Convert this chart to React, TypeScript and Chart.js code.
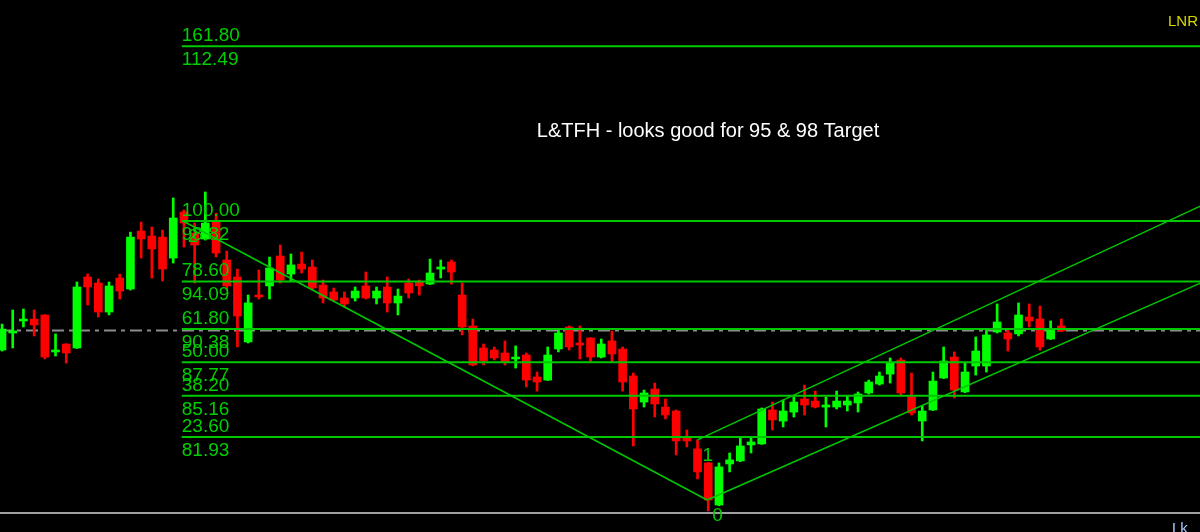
import React, { useEffect, useRef } from 'react';
import { Chart, registerables } from 'chart.js';

Chart.register(...registerables);

// ---- Candle data (price) ----
const OPEN = [
  88.73, 90.06, 91.00, 91.15, 91.47, 88.58, 89.20, 88.89, 94.44, 93.97,
  91.70, 94.36, 93.50, 98.03, 97.64, 97.56, 95.92, 99.52, 97.87, 97.41,
  98.74, 95.77, 94.44, 89.36, 93.03, 93.74, 96.08, 94.67, 95.45, 95.22,
  93.81, 93.27, 92.80, 92.80, 93.74, 92.80, 93.66, 92.41, 93.97, 94.05,
  93.89, 95.06, 95.61, 93.03, 90.61, 88.89, 88.73, 88.50, 88.03, 88.34,
  86.62, 86.38, 88.81, 90.53, 89.28, 89.67, 88.18, 89.44, 88.81, 86.70,
  84.66, 85.68, 84.27, 83.96, 81.85, 81.00, 79.90, 76.61, 79.82, 80.06,
  81.31, 81.39, 84.04, 83.18, 83.88, 84.90, 84.74, 84.27, 84.27, 84.43,
  84.59, 85.37, 86.07, 86.85, 87.95, 85.06, 83.18, 84.04, 86.54, 88.18,
  85.45, 87.48, 87.48, 90.14, 90.06, 89.99, 91.31, 91.15, 89.59, 90.61,
];
const HIGH = [
  90.76, 91.86, 91.94, 91.86, 91.50, 89.99, 89.22, 94.05, 94.67, 94.28,
  94.05, 94.67, 97.95, 98.74, 98.35, 98.11, 100.62, 99.68, 98.66, 101.09,
  99.44, 96.47, 95.06, 93.03, 94.99, 96.00, 96.94, 96.24, 96.39, 95.77,
  94.20, 93.58, 93.27, 93.66, 94.83, 93.66, 94.44, 93.50, 94.28, 94.20,
  95.84, 95.77, 95.77, 93.97, 91.15, 89.20, 88.97, 89.44, 89.05, 88.50,
  87.01, 88.97, 90.30, 90.61, 90.61, 89.70, 89.59, 90.22, 88.97, 86.93,
  85.60, 86.15, 84.90, 84.04, 82.48, 81.70, 79.95, 79.90, 80.68, 81.85,
  81.85, 84.20, 84.66, 84.82, 85.06, 85.99, 85.52, 85.06, 85.52, 85.13,
  85.45, 86.38, 87.01, 88.11, 88.11, 86.93, 84.35, 87.01, 88.97, 88.58,
  87.71, 89.75, 90.30, 92.33, 90.30, 92.41, 92.33, 92.17, 91.00, 91.15,
];
const LOW = [
  88.65, 88.89, 90.53, 89.83, 88.03, 88.26, 87.71, 88.85, 92.25, 91.31,
  91.47, 92.72, 93.42, 95.92, 94.36, 94.13, 95.53, 96.78, 93.97, 97.33,
  96.00, 93.42, 88.97, 89.28, 92.72, 92.72, 93.97, 94.13, 94.75, 93.42,
  92.41, 92.56, 92.09, 92.56, 92.72, 92.33, 91.70, 91.47, 92.80, 93.03,
  93.85, 94.36, 93.89, 89.91, 87.50, 87.56, 87.95, 87.56, 87.32, 85.84,
  85.52, 86.34, 88.58, 88.73, 88.03, 87.79, 88.11, 87.79, 85.52, 81.23,
  84.27, 83.49, 83.34, 80.53, 81.15, 78.65, 76.14, 76.55, 79.20, 80.00,
  80.68, 81.35, 82.48, 82.71, 83.49, 83.65, 84.20, 82.71, 84.12, 83.96,
  83.88, 85.29, 85.99, 86.15, 85.21, 83.65, 81.62, 84.00, 86.50, 84.98,
  85.40, 86.77, 87.01, 90.06, 88.65, 89.83, 90.53, 88.73, 89.55, 90.18,
];
const CLOSE = [
  90.37, 90.22, 91.15, 90.69, 88.18, 88.73, 88.50, 93.66, 93.66, 91.70,
  93.74, 93.34, 97.56, 97.41, 96.63, 95.06, 99.05, 98.66, 96.94, 98.66,
  96.31, 93.74, 91.39, 92.41, 92.88, 95.14, 94.20, 95.38, 95.06, 93.58,
  92.80, 92.64, 92.33, 93.34, 92.80, 93.34, 92.41, 92.95, 93.19, 93.74,
  94.75, 95.22, 94.83, 90.53, 87.56, 87.87, 88.11, 87.79, 88.18, 86.38,
  86.23, 88.34, 90.06, 88.97, 89.12, 88.18, 89.20, 88.42, 86.23, 84.12,
  85.37, 84.51, 83.65, 81.62, 81.62, 79.20, 77.00, 79.59, 80.14, 81.23,
  81.54, 84.12, 83.26, 83.96, 84.66, 84.43, 84.27, 84.43, 84.74, 84.74,
  85.29, 86.23, 86.70, 87.71, 85.37, 83.81, 83.96, 86.30, 87.87, 85.60,
  87.01, 88.65, 89.91, 90.92, 89.59, 91.47, 91.00, 88.97, 90.37, 90.22,
];

// ---- Fibonacci levels ----
const FIB_RATIOS = ['161.80', '100.00', '78.60', '61.80', '50.00', '38.20', '23.60'];
const FIB_PRICES = [112.49, 98.82, 94.09, 90.38, 87.77, 85.16, 81.93];
const FIB_START = 16.8;

// ---- Trend lines (bar index, price) ----
const TREND_DOWN = [{ x: 16.9, y: 98.82 }, { x: 65.9, y: 77.0 }];
const TREND_UP_LOW = [{ x: 65.9, y: 77.0 }, { x: 112, y: 93.97 }];
const TREND_UP_HIGH = [{ x: 65.0, y: 81.7 }, { x: 112, y: 99.99 }];
const POINT_LABELS = ['2', '1', '0'];
const POINT_LABEL_AT = [{ x: 16.9, y: 98.82 }, { x: 65.0, y: 81.7 }, { x: 65.9, y: 77.0 }];

const LAST_PRICE = 90.26;
const BASE_PRICE = 75.99;
const TITLE = 'L&TFH - looks good for 95 & 98 Target';
const SYMBOL = 'LNR';
const CORNER = 'Lk';

const X_MIN = -0.19;
const X_MAX = 111.96;
const Y_MIN = 74.5;
const Y_MAX = 116.1;

const LINE_GREEN = '#00c800';
const TEXT_GREEN = '#00d000';

export default function App() {
  const ref = useRef<HTMLCanvasElement>(null);

  useEffect(() => {
    if (!ref.current) return;
    const idx = OPEN.map((_, i) => i);
    const colors = idx.map((i) => (CLOSE[i] >= OPEN[i] ? '#00ff00' : '#ff0000'));

    const textPlugin = {
      id: 'textLabels',
      afterDatasetsDraw(chart: any) {
        const { ctx, chartArea } = chart;
        const xs = chart.scales.x;
        const ys = chart.scales.y;
        ctx.save();
        ctx.textAlign = 'left';
        ctx.textBaseline = 'alphabetic';
        ctx.font = '19px "Liberation Sans", Arial, sans-serif';
        ctx.fillStyle = TEXT_GREEN;
        const lx = xs.getPixelForValue(FIB_START);
        FIB_PRICES.forEach((p, i) => {
          const py = ys.getPixelForValue(p);
          ctx.fillText(FIB_RATIOS[i], lx, py - 5);
          ctx.fillText(p.toFixed(2), lx, py + 19);
        });
        POINT_LABELS.forEach((t, i) => {
          const px = xs.getPixelForValue(POINT_LABEL_AT[i].x);
          const py = ys.getPixelForValue(POINT_LABEL_AT[i].y);
          ctx.fillText(t, px + 5, py + 21);
        });
        // title
        ctx.fillStyle = '#ffffff';
        ctx.textAlign = 'center';
        ctx.font = '20px "Liberation Sans", Arial, sans-serif';
        ctx.fillText(TITLE, chartArea.left + chartArea.width * 0.59, chartArea.top + 137);
        // symbol top-right
        ctx.textAlign = 'left';
        ctx.font = '15px "Liberation Sans", Arial, sans-serif';
        ctx.fillStyle = '#d8d800';
        ctx.fillText(SYMBOL, chartArea.right - 32, chartArea.top + 26);
        ctx.fillStyle = '#a8ccff';
        ctx.fillText(CORNER, chartArea.right - 28, chartArea.bottom + 1);
        ctx.restore();
      },
    };

    const fibDatasets = FIB_PRICES.map((p) => ({
      type: 'line' as const,
      data: [{ x: FIB_START, y: p }, { x: X_MAX, y: p }],
      borderColor: LINE_GREEN,
      borderWidth: 2,
      pointRadius: 0,
      tension: 0,
      fill: false,
      order: 1,
    }));

    const trendDatasets = [TREND_DOWN, TREND_UP_LOW, TREND_UP_HIGH].map((pts) => ({
      type: 'line' as const,
      data: pts,
      borderColor: LINE_GREEN,
      borderWidth: 1.5,
      pointRadius: 0,
      tension: 0,
      fill: false,
      order: 0,
    }));

    const chart = new Chart(ref.current, {
      type: 'bar',
      data: {
        datasets: [
          {
            type: 'line' as const,
            data: [{ x: X_MIN, y: LAST_PRICE }, { x: X_MAX, y: LAST_PRICE }],
            borderColor: '#8c8c8c',
            borderWidth: 2,
            borderDash: [12, 5, 4, 5],
            pointRadius: 0,
            fill: false,
            order: 10,
          },
          {
            type: 'line' as const,
            data: [{ x: X_MIN, y: BASE_PRICE }, { x: X_MAX, y: BASE_PRICE }],
            borderColor: '#a0a0a0',
            borderWidth: 2,
            pointRadius: 0,
            fill: false,
            order: 9,
          },
          {
            type: 'bar' as const,
            data: idx.map((i) => ({ x: i, y: [LOW[i], HIGH[i]] })) as any,
            backgroundColor: colors,
            borderWidth: 0,
            barThickness: 2,
            grouped: false,
            order: 5,
          },
          {
            type: 'bar' as const,
            data: idx.map((i) => ({ x: i, y: [OPEN[i], CLOSE[i]] })) as any,
            backgroundColor: colors,
            borderWidth: 0,
            barThickness: 8,
            grouped: false,
            order: 4,
          },
          ...fibDatasets,
          ...trendDatasets,
        ] as any,
      },
      options: {
        responsive: false,
        animation: false,
        layout: { padding: 0 },
        plugins: { legend: { display: false }, tooltip: { enabled: false } },
        events: [],
        scales: {
          x: { type: 'linear', min: X_MIN, max: X_MAX, display: false, offset: false },
          y: { type: 'linear', min: Y_MIN, max: Y_MAX, display: false },
        },
      } as any,
      plugins: [textPlugin],
    });
    return () => chart.destroy();
  }, []);

  return (
    <div style={{ position: 'fixed', left: 0, top: 0, width: 1200, height: 532, background: '#000' }}>
      <canvas ref={ref} width={1200} height={532} style={{ display: 'block' }} />
    </div>
  );
}
